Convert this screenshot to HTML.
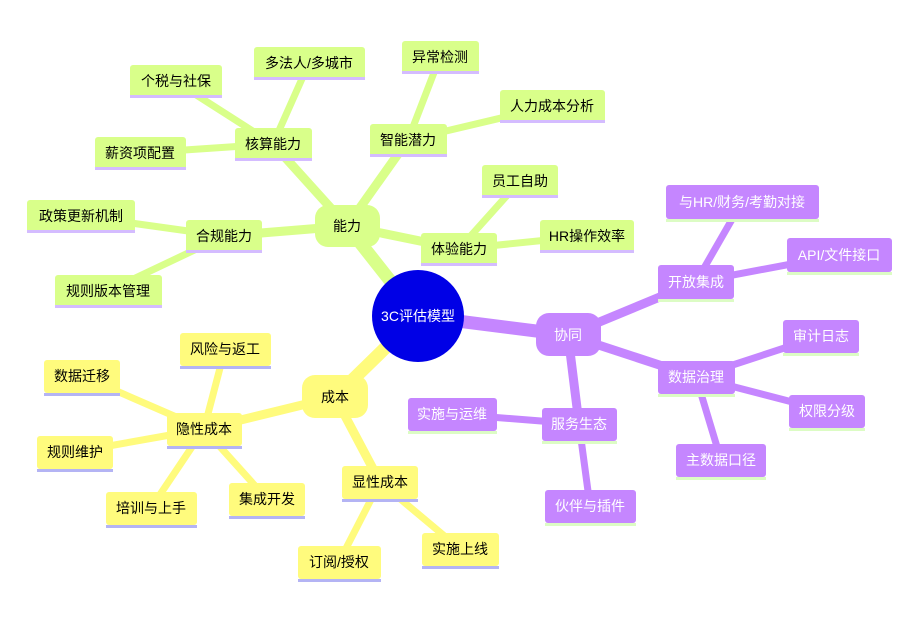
<!DOCTYPE html>
<html><head><meta charset="utf-8"><style>
html,body{margin:0;padding:0;background:#fff;width:910px;height:640px;overflow:hidden}
text{font-family:"Liberation Sans","Noto Sans CJK SC",sans-serif;font-size:14px;text-anchor:middle;dominant-baseline:central}
.g line{stroke:#d9ff8a;stroke-linecap:round}
.p line{stroke:#c586ff;stroke-linecap:round}
.y line{stroke:#fffb7d;stroke-linecap:round}
</style></head><body>
<svg width="910" height="640" xmlns="http://www.w3.org/2000/svg">
<!-- green lines -->
<g class="g">
<line x1="418" y1="316" x2="347" y2="226" stroke-width="13"/>
<line x1="347" y1="226" x2="273" y2="144" stroke-width="9"/>
<line x1="347" y1="226" x2="408" y2="140" stroke-width="9"/>
<line x1="347" y1="226" x2="224" y2="236" stroke-width="9"/>
<line x1="347" y1="226" x2="459" y2="249" stroke-width="9"/>
<line x1="273" y1="144" x2="176" y2="82" stroke-width="7"/>
<line x1="273" y1="144" x2="309" y2="63" stroke-width="7"/>
<line x1="273" y1="144" x2="140" y2="153" stroke-width="7"/>
<line x1="408" y1="140" x2="440" y2="57" stroke-width="7"/>
<line x1="408" y1="140" x2="552" y2="106" stroke-width="7"/>
<line x1="224" y1="236" x2="81" y2="216" stroke-width="7"/>
<line x1="224" y1="236" x2="108" y2="291" stroke-width="7"/>
<line x1="459" y1="249" x2="520" y2="181" stroke-width="7"/>
<line x1="459" y1="249" x2="587" y2="236" stroke-width="7"/>
</g>
<g class="p">
<line x1="418" y1="316" x2="568" y2="335" stroke-width="13"/>
<line x1="568" y1="335" x2="696" y2="282" stroke-width="9"/>
<line x1="568" y1="335" x2="696" y2="377" stroke-width="9"/>
<line x1="568" y1="335" x2="579" y2="424" stroke-width="9"/>
<line x1="696" y1="282" x2="742" y2="202" stroke-width="7"/>
<line x1="696" y1="282" x2="839" y2="255" stroke-width="7"/>
<line x1="696" y1="377" x2="821" y2="336" stroke-width="7"/>
<line x1="696" y1="377" x2="827" y2="411" stroke-width="7"/>
<line x1="696" y1="377" x2="721" y2="460" stroke-width="7"/>
<line x1="579" y1="424" x2="452" y2="414" stroke-width="7"/>
<line x1="579" y1="424" x2="590" y2="506" stroke-width="7"/>
</g>
<g class="y">
<line x1="418" y1="316" x2="335" y2="397" stroke-width="13"/>
<line x1="335" y1="397" x2="204" y2="429" stroke-width="9"/>
<line x1="335" y1="397" x2="380" y2="482" stroke-width="9"/>
<line x1="204" y1="429" x2="225" y2="349" stroke-width="7"/>
<line x1="204" y1="429" x2="82" y2="376" stroke-width="7"/>
<line x1="204" y1="429" x2="75" y2="452" stroke-width="7"/>
<line x1="204" y1="429" x2="151" y2="508" stroke-width="7"/>
<line x1="204" y1="429" x2="267" y2="499" stroke-width="7"/>
<line x1="380" y1="482" x2="339" y2="562" stroke-width="7"/>
<line x1="380" y1="482" x2="460" y2="549" stroke-width="7"/>
</g>

<!-- main nodes -->
<rect x="315" y="205" width="65" height="42" rx="13" fill="#d9ff8a"/><text x="347" y="226">能力</text>
<rect x="536" y="313" width="65" height="43" rx="13" fill="#c586ff"/><text x="568" y="335" fill="#fff">协同</text>
<rect x="302" y="375" width="66" height="43" rx="13" fill="#fffb7d"/><text x="335" y="397">成本</text>

<circle cx="418" cy="316" r="46" fill="#0000e6"/>
<text x="418" y="316" fill="#fff">3C评估模型</text>

<!-- green nodes -->
<g fill="#d9ff8a">
<rect x="235" y="128" width="77" height="33" rx="3"/>
<rect x="130" y="65" width="92" height="33" rx="3"/>
<rect x="254" y="47" width="111" height="33" rx="3"/>
<rect x="95" y="137" width="91" height="33" rx="3"/>
<rect x="370" y="124" width="77" height="33" rx="3"/>
<rect x="402" y="41" width="77" height="33" rx="3"/>
<rect x="500" y="90" width="105" height="33" rx="3"/>
<rect x="186" y="220" width="76" height="33" rx="3"/>
<rect x="27" y="200" width="108" height="33" rx="3"/>
<rect x="55" y="275" width="107" height="33" rx="3"/>
<rect x="421" y="233" width="76" height="33" rx="3"/>
<rect x="482" y="165" width="76" height="33" rx="3"/>
<rect x="540" y="220" width="94" height="33" rx="3"/>
</g>
<g fill="#d4bcff">
<rect x="235" y="158" width="77" height="3"/>
<rect x="130" y="95" width="92" height="3"/>
<rect x="254" y="77" width="111" height="3"/>
<rect x="95" y="167" width="91" height="3"/>
<rect x="370" y="154" width="77" height="3"/>
<rect x="402" y="71" width="77" height="3"/>
<rect x="500" y="120" width="105" height="3"/>
<rect x="186" y="250" width="76" height="3"/>
<rect x="27" y="230" width="108" height="3"/>
<rect x="55" y="305" width="107" height="3"/>
<rect x="421" y="263" width="76" height="3"/>
<rect x="482" y="195" width="76" height="3"/>
<rect x="540" y="250" width="94" height="3"/>
</g>
<g>
<text x="273" y="144">核算能力</text>
<text x="176" y="81">个税与社保</text>
<text x="309" y="63">多法人/多城市</text>
<text x="140" y="153">薪资项配置</text>
<text x="408" y="140">智能潜力</text>
<text x="440" y="57">异常检测</text>
<text x="552" y="106">人力成本分析</text>
<text x="224" y="236">合规能力</text>
<text x="81" y="216">政策更新机制</text>
<text x="108" y="291">规则版本管理</text>
<text x="459" y="249">体验能力</text>
<text x="520" y="181">员工自助</text>
<text x="587" y="236">HR操作效率</text>
</g>

<!-- purple nodes -->
<g fill="#c586ff">
<rect x="658" y="265" width="76" height="34" rx="3"/>
<rect x="666" y="185" width="153" height="34" rx="3"/>
<rect x="787" y="238" width="105" height="34" rx="3"/>
<rect x="658" y="361" width="77" height="33" rx="3"/>
<rect x="783" y="320" width="76" height="33" rx="3"/>
<rect x="789" y="395" width="76" height="33" rx="3"/>
<rect x="676" y="444" width="90" height="33" rx="3"/>
<rect x="542" y="408" width="75" height="33" rx="3"/>
<rect x="408" y="398" width="89" height="33" rx="3"/>
<rect x="545" y="490" width="91" height="33" rx="3"/>
</g>
<g fill="#dcfcc4">
<rect x="658" y="299" width="76" height="3"/>
<rect x="666" y="219" width="153" height="3"/>
<rect x="787" y="272" width="105" height="3"/>
<rect x="658" y="394" width="77" height="3"/>
<rect x="783" y="353" width="76" height="3"/>
<rect x="789" y="428" width="76" height="3"/>
<rect x="676" y="477" width="90" height="3"/>
<rect x="542" y="441" width="75" height="3"/>
<rect x="408" y="431" width="89" height="3"/>
<rect x="545" y="523" width="91" height="3"/>
</g>
<g fill="#fff">
<text x="696" y="282">开放集成</text>
<text x="742" y="202">与HR/财务/考勤对接</text>
<text x="839" y="255">API/文件接口</text>
<text x="696" y="377">数据治理</text>
<text x="821" y="336">审计日志</text>
<text x="827" y="411">权限分级</text>
<text x="721" y="460">主数据口径</text>
<text x="579" y="424">服务生态</text>
<text x="452" y="414">实施与运维</text>
<text x="590" y="506">伙伴与插件</text>
</g>

<!-- yellow nodes -->
<g fill="#fffb7d">
<rect x="167" y="413" width="75" height="33" rx="3"/>
<rect x="180" y="333" width="91" height="33" rx="3"/>
<rect x="44" y="360" width="76" height="33" rx="3"/>
<rect x="37" y="436" width="76" height="33" rx="3"/>
<rect x="106" y="492" width="91" height="33" rx="3"/>
<rect x="229" y="483" width="76" height="33" rx="3"/>
<rect x="342" y="466" width="76" height="33" rx="3"/>
<rect x="298" y="546" width="83" height="33" rx="3"/>
<rect x="422" y="533" width="77" height="33" rx="3"/>
</g>
<g fill="#b4b4f4">
<rect x="167" y="446" width="75" height="3"/>
<rect x="180" y="366" width="91" height="3"/>
<rect x="44" y="393" width="76" height="3"/>
<rect x="37" y="469" width="76" height="3"/>
<rect x="106" y="525" width="91" height="3"/>
<rect x="229" y="516" width="76" height="3"/>
<rect x="342" y="499" width="76" height="3"/>
<rect x="298" y="579" width="83" height="3"/>
<rect x="422" y="566" width="77" height="3"/>
</g>
<g>
<text x="204" y="429">隐性成本</text>
<text x="225" y="349">风险与返工</text>
<text x="82" y="376">数据迁移</text>
<text x="75" y="452">规则维护</text>
<text x="151" y="508">培训与上手</text>
<text x="267" y="499">集成开发</text>
<text x="380" y="482">显性成本</text>
<text x="339" y="562">订阅/授权</text>
<text x="460" y="549">实施上线</text>
</g>
</svg>
</body></html>
